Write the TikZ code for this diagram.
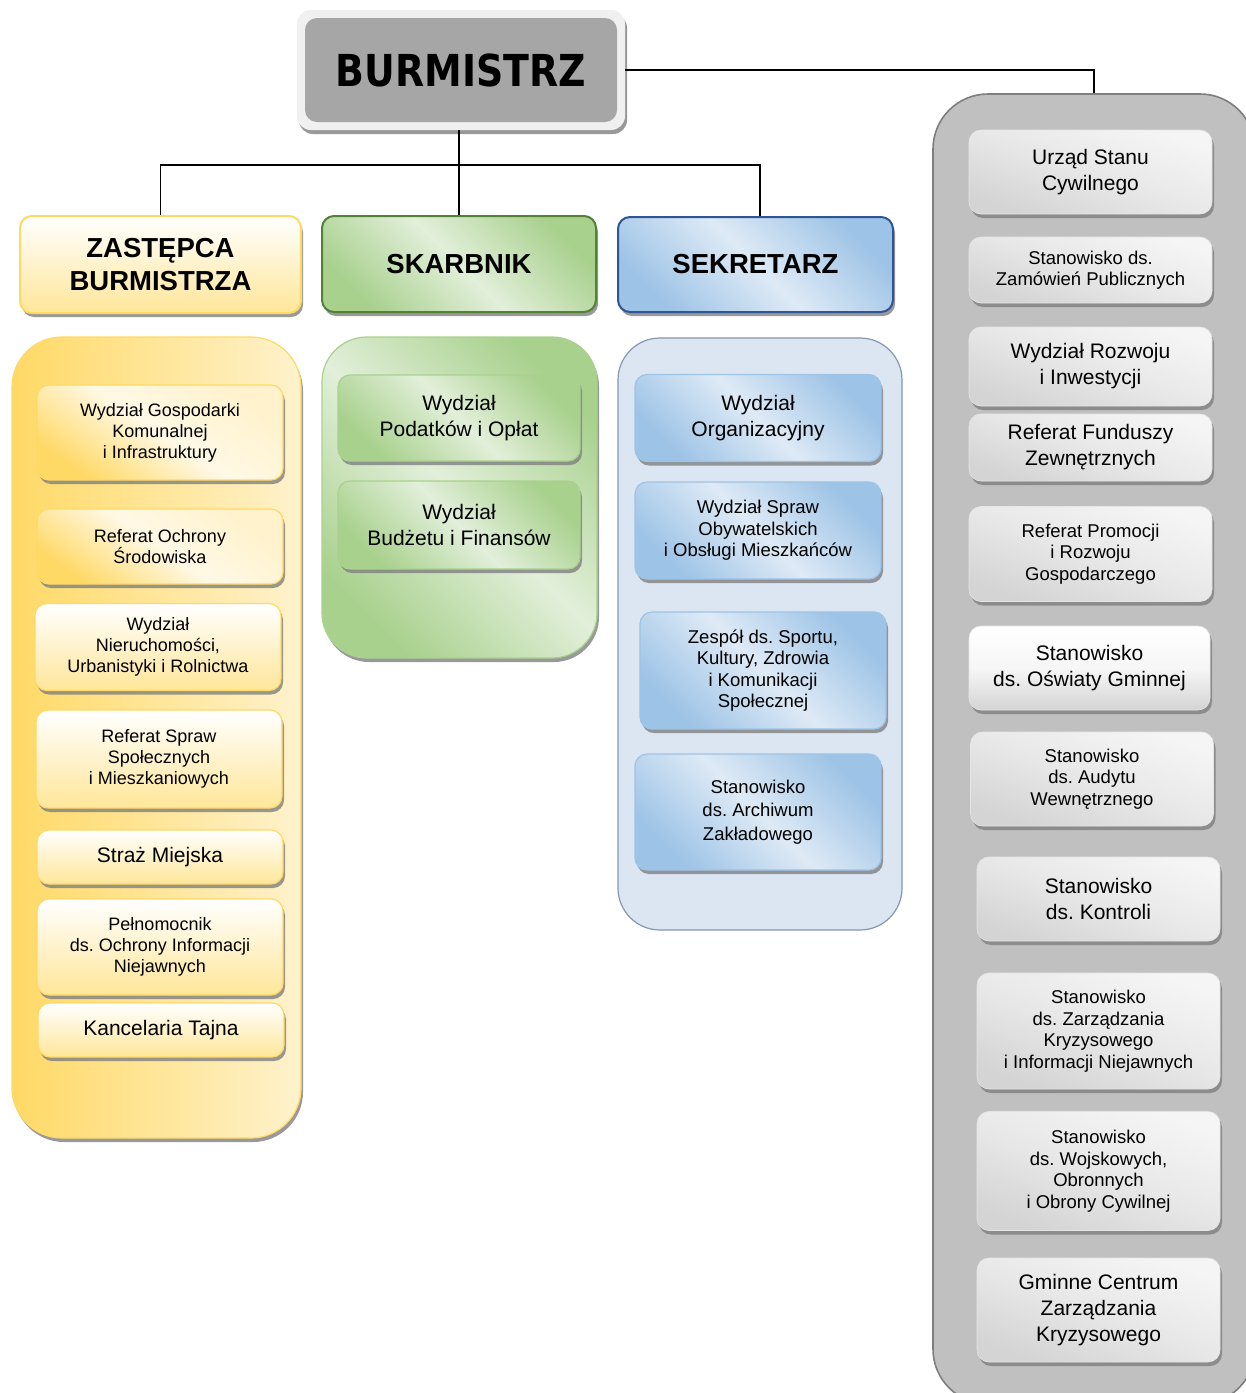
\documentclass[tikz,border=0pt]{standalone}
\usepackage{fontspec}
\setmainfont{Liberation Sans}
\newfontfamily\burmfont[FakeStretch=0.86]{DejaVu Sans}
\usetikzlibrary{shadows}
\frenchspacing
\definecolor{gold}{HTML}{FFD966}
\definecolor{goldlt}{HTML}{FFF2CC}
\definecolor{goldmd}{HTML}{FFE699}
\definecolor{grnd}{HTML}{538135}
\definecolor{grnm}{HTML}{A9D18E}
\definecolor{grnl}{HTML}{E2EFDA}
\definecolor{blud}{HTML}{2F5597}
\definecolor{blum}{HTML}{9DC3E6}
\definecolor{blul}{HTML}{DEEAF6}
\definecolor{bluc}{HTML}{DCE6F3}
\definecolor{bluedge}{HTML}{8497B0}
\definecolor{grcont}{HTML}{C0C0C0}
\definecolor{gredge}{HTML}{7F7F7F}
\definecolor{grtop}{HTML}{F5F5F5}
\definecolor{grbot}{HTML}{D4D4D4}
\definecolor{burmgray}{HTML}{A6A6A6}
\definecolor{burmframe}{HTML}{F0F0F0}
\tikzset{
  box/.style={rectangle, rounded corners=12pt, inner sep=0pt, align=center, text=black},
  shd/.style={drop shadow={shadow xshift=2pt, shadow yshift=-4pt, fill=black!50, opacity=0.8}},
  L/.style={font=\fontsize{21}{26}\selectfont},
  S/.style={font=\fontsize{18.5}{21.5}\selectfont},
  Y/.style={font=\fontsize{18}{21}\selectfont},
  hd/.style={font=\fontsize{27.5}{33}\selectfont\bfseries},
  ybox/.style={box, shd, draw=gold, line width=1.2pt, top color=white, bottom color=goldmd},
  yboxA/.style={box, shd, draw=gold, line width=1.2pt, top color=goldlt, bottom color=gold, middle color=goldlt!50!white, shading angle=-35},
  gbox/.style={box, shd, draw=grnm, line width=1.2pt, top color=grnm, bottom color=grnm, middle color=grnl, shading angle=-45},
  bbox/.style={box, shd, draw=blum, line width=1.2pt, top color=blum, bottom color=blum, middle color=blul, shading angle=-45},
  rbox/.style={box, shd, draw=black!10, line width=0.6pt, top color=grtop, bottom color=grbot, middle color=grtop!60!grbot, shading angle=-20},
  cont/.style={rectangle, inner sep=0pt},
  ln/.style={line width=1.6pt, black},
}
\begin{document}
\begin{tikzpicture}[x=1pt,y=-1pt]
\useasboundingbox (0,0) rectangle (1246,1393);
\clip (0,0) rectangle (1246,1393);
\fill[white] (0,0) rectangle (1246,1393);

% containers
\node[cont, rounded corners=50pt, shd, draw=gold, line width=1.2pt, left color=gold, right color=goldlt, minimum width=289pt, minimum height=801pt] (yc) at (156.5,737.5) {};
\node[cont, rounded corners=45pt, shd, draw=grnm, line width=1.2pt, top color=grnm, bottom color=grnm, middle color=grnl, shading angle=-45, minimum width=275pt, minimum height=321pt] (gc) at (459.5,497.5) {};
\node[cont, rounded corners=42pt, draw=bluedge, line width=1.2pt, fill=bluc, minimum width=284pt, minimum height=592pt] (bc) at (760,634) {};
\node[cont, rounded corners=55pt, draw=gredge, line width=1.6pt, fill=grcont, minimum width=322pt, minimum height=1310pt] (grc) at (1094,749) {};

% BURMISTRZ
\node[box, rounded corners=14pt, shd, fill=burmframe, minimum width=328pt, minimum height=120pt] (burm) at (461,70) {};
\node[box, rounded corners=12pt, fill=burmgray, minimum width=312pt, minimum height=104pt, font=\burmfont\bfseries\fontsize{44}{50}\selectfont] (burmin) at (461,70) {BURMISTRZ};

% headers
\node[box, shd, hd, draw=gold, line width=2pt, top color=white, bottom color=goldmd, minimum width=281pt, minimum height=97pt] (zast) at (160.5,264.5) {ZASTĘPCA\\BURMISTRZA};
\node[box, shd, hd, draw=grnd, line width=2pt, top color=grnm, bottom color=grnm, middle color=grnl, shading angle=-45, minimum width=274pt, minimum height=96pt] (skarb) at (459,264) {SKARBNIK};
\node[box, shd, hd, draw=blud, line width=2pt, top color=blum, bottom color=blum, middle color=blul, shading angle=-45, minimum width=275pt, minimum height=95pt] (sekr) at (755.5,264.5) {SEKRETARZ};

% yellow column
\node[yboxA, Y, minimum width=246pt, minimum height=95pt] (y1) at (160,432.5) {Wydział Gospodarki\\Komunalnej\\i Infrastruktury};
\node[yboxA, Y, minimum width=246pt, minimum height=75pt] (y2) at (160,546.5) {Referat Ochrony\\Środowiska};
\node[ybox, Y, minimum width=246pt, minimum height=87pt] (y3) at (158,647) {Wydział\\Nieruchomości,\\Urbanistyki i Rolnictwa};
\node[ybox, Y, minimum width=246pt, minimum height=98pt] (y4) at (159,759) {Referat Spraw\\Społecznych\\i Mieszkaniowych};
\node[ybox, L, minimum width=246pt, minimum height=54pt] (y5) at (160,857) {Straż Miejska};
\node[ybox, Y, minimum width=246pt, minimum height=96pt] (y6) at (160,947) {Pełnomocnik\\ds. Ochrony Informacji\\Niejawnych};
\node[ybox, L, minimum width=246pt, minimum height=54pt] (y7) at (161,1030) {Kancelaria Tajna};

% green column
\node[gbox, L, minimum width=242pt, minimum height=86pt] (g1) at (459,418) {Wydział\\Podatków i Opłat};
\node[gbox, L, minimum width=242pt, minimum height=88pt] (g2) at (459,525) {Wydział\\Budżetu i Finansów};

% blue column
\node[bbox, L, minimum width=246pt, minimum height=87pt] (b1) at (758,418) {Wydział\\Organizacyjny};
\node[bbox, S, minimum width=246pt, minimum height=97pt] (b2) at (758,530.5) {Wydział Spraw\\Obywatelskich\\i Obsługi Mieszkańców};
\node[bbox, S, minimum width=246pt, minimum height=117pt] (b3) at (763,670.5) {Zespół ds. Sportu,\\Kultury, Zdrowia\\i Komunikacji\\Społecznej};
\node[bbox, font=\fontsize{18.5}{23.5}\selectfont, minimum width=246pt, minimum height=116pt] (b4) at (758,812) {Stanowisko\\ds. Archiwum\\Zakładowego};

% gray column
\node[rbox, L, minimum width=243pt, minimum height=84pt] (r1) at (1090.5,172) {Urząd Stanu\\Cywilnego};
\node[rbox, S, minimum width=243pt, minimum height=66pt] (r2) at (1090.5,270) {Stanowisko ds.\\Zamówień Publicznych};
\node[rbox, L, minimum width=243pt, minimum height=67pt] (r4) at (1090.5,447.5) {Referat Funduszy\\Zewnętrznych};
\node[rbox, L, minimum width=243pt, minimum height=79pt] (r3) at (1090.5,366.5) {Wydział Rozwoju\\i Inwestycji};
\node[rbox, S, minimum width=243pt, minimum height=95pt] (r5) at (1090.5,554) {Referat Promocji\\i Rozwoju\\Gospodarczego};
\node[rbox, L, top color=white, bottom color=grbot, middle color=white!80!grbot, minimum width=241pt, minimum height=84pt] (r6) at (1089.5,668) {Stanowisko\\ds. Oświaty Gminnej};
\node[rbox, S, minimum width=243pt, minimum height=94pt] (r7) at (1092,779) {Stanowisko\\ds. Audytu\\Wewnętrznego};
\node[rbox, L, minimum width=243pt, minimum height=84pt] (r8) at (1098.5,899) {Stanowisko\\ds. Kontroli};
\node[rbox, S, minimum width=243pt, minimum height=116pt] (r9) at (1098.5,1031) {Stanowisko\\ds. Zarządzania\\Kryzysowego\\i Informacji Niejawnych};
\node[rbox, S, minimum width=243pt, minimum height=119pt] (r10) at (1098.5,1171) {Stanowisko\\ds. Wojskowych,\\Obronnych\\i Obrony Cywilnej};
\node[rbox, L, minimum width=243pt, minimum height=104pt] (r11) at (1098.5,1310) {Gminne Centrum\\Zarządzania\\Kryzysowego};

% connectors
\coordinate (barL) at (160.5,165);
\coordinate (barR) at (760,165);
\draw[ln] (skarb.north |- burm.south) -- (skarb.north);
\draw[ln] (zast.north) -- (barL) -- (barR) -- (barR |- sekr.north);
\draw[ln] (burm.east) -| (grc.north);
\end{tikzpicture}
\end{document}
